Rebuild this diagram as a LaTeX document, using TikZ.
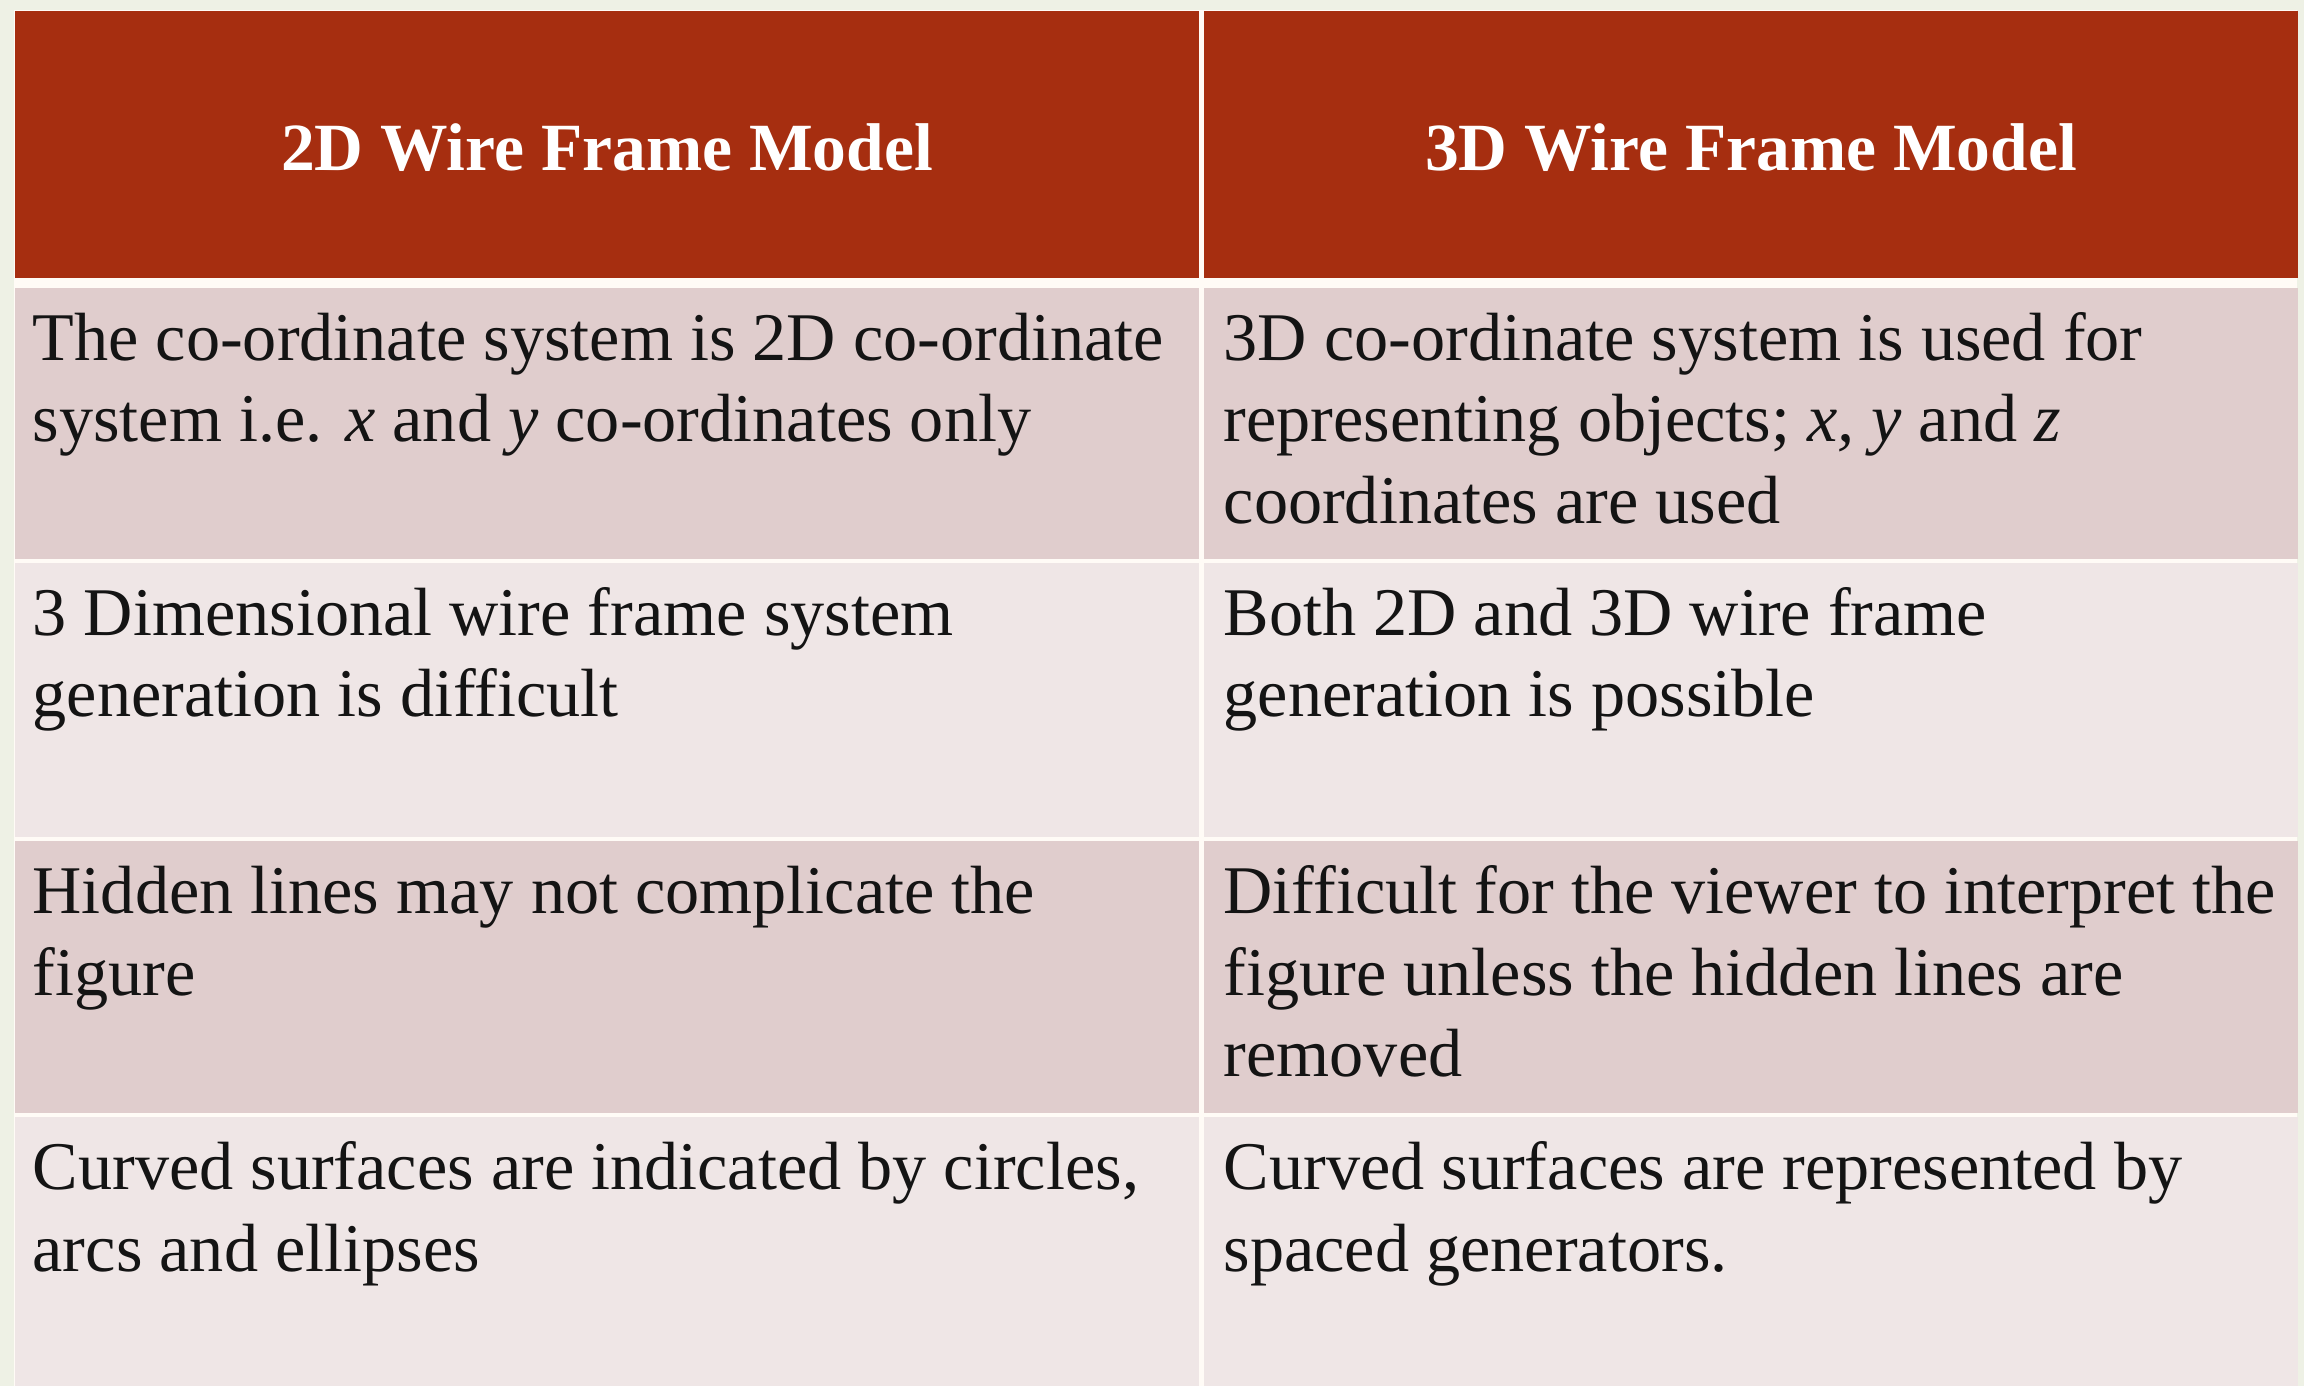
\documentclass[tikz,border=0pt]{standalone}
\usepackage{fontspec}
\setmainfont{Liberation Serif}
\usetikzlibrary{positioning,calc}
\definecolor{hdrred}{RGB}{166,46,16}
\definecolor{rowdark}{RGB}{224,205,205}
\definecolor{rowlight}{RGB}{239,230,230}
\definecolor{gapwhite}{RGB}{255,251,246}
\definecolor{slidebg}{RGB}{238,241,229}

\begin{document}
\begin{tikzpicture}[
    x=0.01cm, y=-0.01cm,
    cell/.style={draw=none, inner sep=0pt, anchor=north west},
    hdrcell/.style={cell, fill=hdrred},
    darkcell/.style={cell, fill=rowdark},
    lightcell/.style={cell, fill=rowlight},
    hdrtext/.style={text=white, inner sep=0pt, font=\fontsize{19.2}{23.3}\selectfont\bfseries},
    bodytext/.style={anchor=north west, inner sep=0pt, align=left, text=black!92,
        font=\fontsize{19.4}{23.3}\selectfont},
]
    \useasboundingbox (0,0) rectangle (2304,1386);
    \fill[slidebg] (0,0) rectangle (2304,1386);
    \fill[gapwhite] (14,10) rectangle (2297,1386);
    % cells: row / top / height / style
    \foreach \r/\top/\rh/\sty in {0/10/267/hdrcell, 1/287/271/darkcell, 2/562/274/lightcell,
                                  3/840/272/darkcell, 4/1116/270/lightcell} {
        \node[\sty, minimum width=11.84cm, minimum height=\rh*0.01cm] (L\r) at (14,\top) {};
        \node[\sty, minimum width=10.94cm, minimum height=\rh*0.01cm] (R\r) at (1203,\top) {};
    }
    \node[hdrtext] (L0text) at ($(L0.center)+(0,3)$) {2D Wire Frame Model};
    \node[hdrtext] (R0text) at ($(R0.center)+(0,3)$) {3D Wire Frame Model};

    \node[bodytext] (L1text) at ($(L1.north west)+(18,15)$)
        {\strut The co-ordinate system is 2D co-ordinate\\system i.e. \textit{x} and \textit{y} co-ordinates only};
    \node[bodytext] (R1text) at ($(R1.north west)+(20,15)$)
        {\strut 3D co-ordinate system is used for\\representing objects; \textit{x, y} and \textit{z}\\coordinates are used};
    \node[bodytext] (L2text) at ($(L2.north west)+(18,15)$)
        {\strut 3 Dimensional wire frame system\\generation is difficult};
    \node[bodytext] (R2text) at ($(R2.north west)+(20,15)$)
        {\strut Both 2D and 3D wire frame\\generation is possible};
    \node[bodytext] (L3text) at ($(L3.north west)+(18,15)$)
        {\strut Hidden lines may not complicate the\\figure};
    \node[bodytext] (R3text) at ($(R3.north west)+(20,15)$)
        {\strut Difficult for the viewer to interpret the\\figure unless the hidden lines are\\removed};
    \node[bodytext] (L4text) at ($(L4.north west)+(18,15)$)
        {\strut Curved surfaces are indicated by circles,\\arcs and ellipses};
    \node[bodytext] (R4text) at ($(R4.north west)+(20,15)$)
        {\strut Curved surfaces are represented by\\spaced generators.};
\end{tikzpicture}
\end{document}
